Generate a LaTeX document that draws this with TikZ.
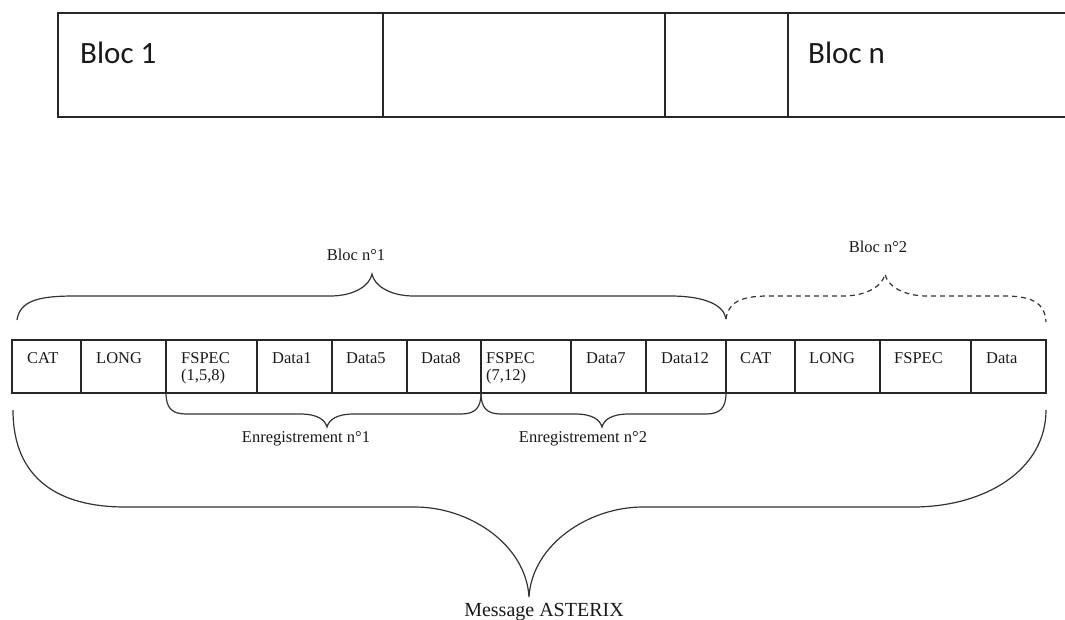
\documentclass[tikz,border=0pt]{standalone}
\usepackage{fontspec}
\setmainfont{Liberation Serif}
\newfontfamily\calibrifont{Carlito}
\begin{document}
\begin{tikzpicture}[x=1pt,y=-1pt]
\tikzset{
  frame/.style={draw=black!85, line width=1.6pt},
  cellst/.style={draw=black!85, line width=1.4pt, minimum height=53pt, inner sep=0pt, outer sep=0pt},
  lbl/.style={font=\fontsize{16.5}{19}\selectfont, inner sep=0pt, text=black!90},
  biglbl/.style={font=\calibrifont\fontsize{31}{36}\selectfont, inner sep=0pt, text=black!90},
  brace/.style={draw=black!80, line width=1.2pt},
  dbrace/.style={draw=black!80, line width=1.2pt, dash pattern=on 5pt off 4pt},
}
\useasboundingbox (0,0) rectangle (1065,619);

% ---------- top frame ----------
\draw[frame] (1065,13) -- (58,13) -- (58,117) -- (1065,117);
\foreach \x in {383,665,788} \draw[frame] (\x,13) -- (\x,117);
\node[biglbl, anchor=base west] (bloc1) at (80,63) {Bloc 1};
\node[biglbl, anchor=base west] (blocn) at (808,63) {Bloc n};

% ---------- cells ----------
\foreach \l/\r/\t/\ins [count=\i] in {12/81/CAT/15, 81/166/LONG/15, 166/257/FSPEC/15, 257/332/Data1/15, 332/407/Data5/14, 407/481/Data8/14, 481/571/FSPEC/5, 571/646/Data7/15, 646/726/Data12/15, 726/795/CAT/14, 795/880/LONG/14, 880/971/FSPEC/14, 971/1046/Data/15}{
  \node[cellst, minimum width={\r-\l}] (c\i) at ({(\l+\r)/2},366.5) {};
  \node[lbl, anchor=base west] (t\i) at ({\l+\ins},363) {\t};
}
\node[lbl, anchor=base west] (t3b) at (181,380) {(1,5,8)};
\node[lbl, anchor=base west] (t7b) at (486,380) {(7,12)};

% ---------- Bloc n°1 brace ----------
\draw[brace] (17,320) .. controls (20,300) and (40,296) .. (75,296)
  -- (330,296) .. controls (355,296) and (370,285) .. (372,274)
  .. controls (374,285) and (389,296) .. (414,296)
  -- (670,296) .. controls (705,296) and (724,305) .. (726,319);
\node[lbl, anchor=base] (bloc1lbl) at (356,260) {Bloc n°1};

% ---------- Bloc n°2 brace (dashed) ----------
\draw[dbrace] (726,319) .. controls (728,303) and (740,296) .. (768,296)
  -- (843,296) .. controls (868,296) and (883,285) .. (885,274)
  .. controls (887,285) and (902,296) .. (927,296)
  -- (1005,296) .. controls (1035,296) and (1045,305) .. (1046,322);
\node[lbl, anchor=base] (bloc2lbl) at (878,252) {Bloc n°2};

% ---------- Enregistrement braces ----------
\draw[brace] (c3.south west) .. controls (166,408) and (172,414) .. (186,414)
  -- (300,414) .. controls (318,414) and (325,420) .. (327,427)
  .. controls (329,420) and (336,414) .. (354,414)
  -- (461,414) .. controls (475,414) and (481,408) .. (c6.south east);
\node[lbl, anchor=base] (enr1) at (306,442) {Enregistrement n°1};

\draw[brace] (c7.south west) .. controls (481,408) and (487,414) .. (501,414)
  -- (575,414) .. controls (593,414) and (600,420) .. (602,427)
  .. controls (604,420) and (611,414) .. (629,414)
  -- (706,414) .. controls (720,414) and (726,408) .. (c9.south east);
\node[lbl, anchor=base] (enr2) at (583,442) {Enregistrement n°2};

% ---------- Message brace ----------
\draw[brace] (13,410) .. controls (13,480) and (60,507) .. (125,507)
  -- (415,507) .. controls (470,507) and (526,545) .. (529,597)
  .. controls (532,545) and (588,507) .. (643,507)
  -- (913,507) .. controls (985,507) and (1046,470) .. (1046,410);
\node[lbl, anchor=base, font=\fontsize{20}{23}\selectfont] (msg) at (544,616) {Message ASTERIX};
\end{tikzpicture}
\end{document}
